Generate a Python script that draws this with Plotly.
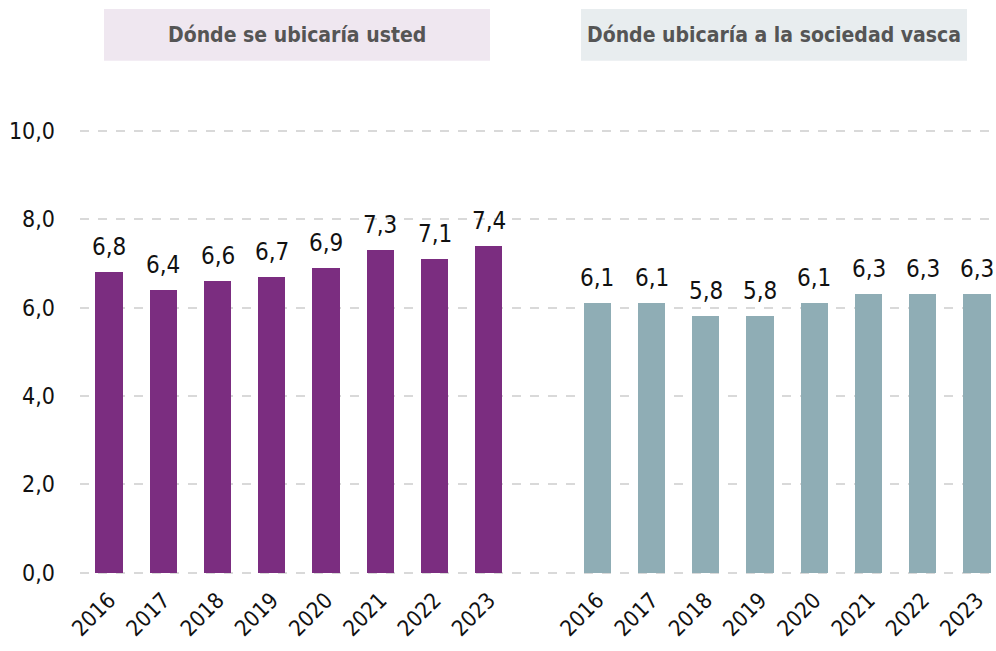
import plotly.graph_objects as go

years = ["2016", "2017", "2018", "2019", "2020", "2021", "2022", "2023"]
usted = [6.8, 6.4, 6.6, 6.7, 6.9, 7.3, 7.1, 7.4]
sociedad = [6.1, 6.1, 5.8, 5.8, 6.1, 6.3, 6.3, 6.3]
y_ticks = [0, 2, 4, 6, 8, 10]
titles = ["Dónde se ubicaría usted", "Dónde ubicaría a la sociedad vasca"]

purple = "#7b2d80"
slate = "#8fadb5"
num_font = "DejaVu Sans Condensed, Roboto, sans-serif"

# two groups of eight bars on one numeric axis, one empty slot between them
x1 = list(range(len(years)))
x2 = [len(years) + 1 + i for i in range(len(years))]

fig = go.Figure()
fig.add_trace(go.Bar(x=x1, y=usted, marker=dict(color=purple, line=dict(width=0)),
                     width=0.5, hoverinfo="skip"))
fig.add_trace(go.Bar(x=x2, y=sociedad, marker=dict(color=slate, line=dict(width=0)),
                     width=0.5, hoverinfo="skip"))

annotations = []
for xs, vals in ((x1, usted), (x2, sociedad)):
    for x, v in zip(xs, vals):
        annotations.append(dict(
            x=x, y=v, xref="x", yref="y", text=f"{v:.1f}".replace(".", ","),
            showarrow=False, yanchor="bottom", yshift=9,
            font=dict(family=num_font, size=24, color="#111111")))

# pixel frame of the value axis: 0 at y=573, 10 at y=131
L, R = 80, 996
Y0, Y10 = 573, 131
ppu = (Y0 - Y10) / 10
y_lo, y_hi = -0.1, 10.2
T = Y10 - (y_hi - 10) * ppu
B = Y0 - y_lo * ppu
W = R - L
H = B - T

def px(v):
    return (v - L) / W

def py(v):
    return (B - v) / H

boxes = [(104, 490, "#efe7f0"), (581, 967, "#e8edef")]
shapes = []
for (bx0, bx1, col), title in zip(boxes, titles):
    shapes.append(dict(type="rect", xref="paper", yref="paper",
                       x0=px(bx0), x1=px(bx1), y0=py(61), y1=py(9),
                       fillcolor=col, line=dict(width=0), layer="below"))
    annotations.append(dict(
        x=px((bx0 + bx1) / 2), y=py(35), xref="paper", yref="paper",
        text=f"<b>{title}</b>", showarrow=False, xanchor="center", yanchor="middle",
        font=dict(family=num_font, size=21, color="#555555")))

x_per_px = 16 / (977 - 109)
fig.update_layout(
    width=996, height=651,
    margin=dict(l=L, r=996 - R, t=T, b=651 - B, pad=0),
    paper_bgcolor="white", plot_bgcolor="white",
    showlegend=False, bargap=0,
    shapes=shapes, annotations=annotations,
    xaxis=dict(
        range=[(L - 109) * x_per_px, 16 + (R - 977) * x_per_px],
        tickvals=x1 + x2, ticktext=years + years, tickangle=-45,
        tickfont=dict(family=num_font, size=22, color="#111111"),
        showgrid=False, zeroline=False, showline=False, ticks="",
        ticklabelstandoff=5,
    ),
    yaxis=dict(
        range=[y_lo, y_hi], tickvals=y_ticks,
        ticktext=[f"{v:.1f}".replace(".", ",") for v in y_ticks],
        tickfont=dict(family=num_font, size=23, color="#111111"),
        showgrid=True, gridcolor="#d9d9d9", gridwidth=2, griddash="dash",
        zeroline=False, showline=False, ticks="", ticklabelstandoff=24,
    ),
)

fig.write_html("out.html")
